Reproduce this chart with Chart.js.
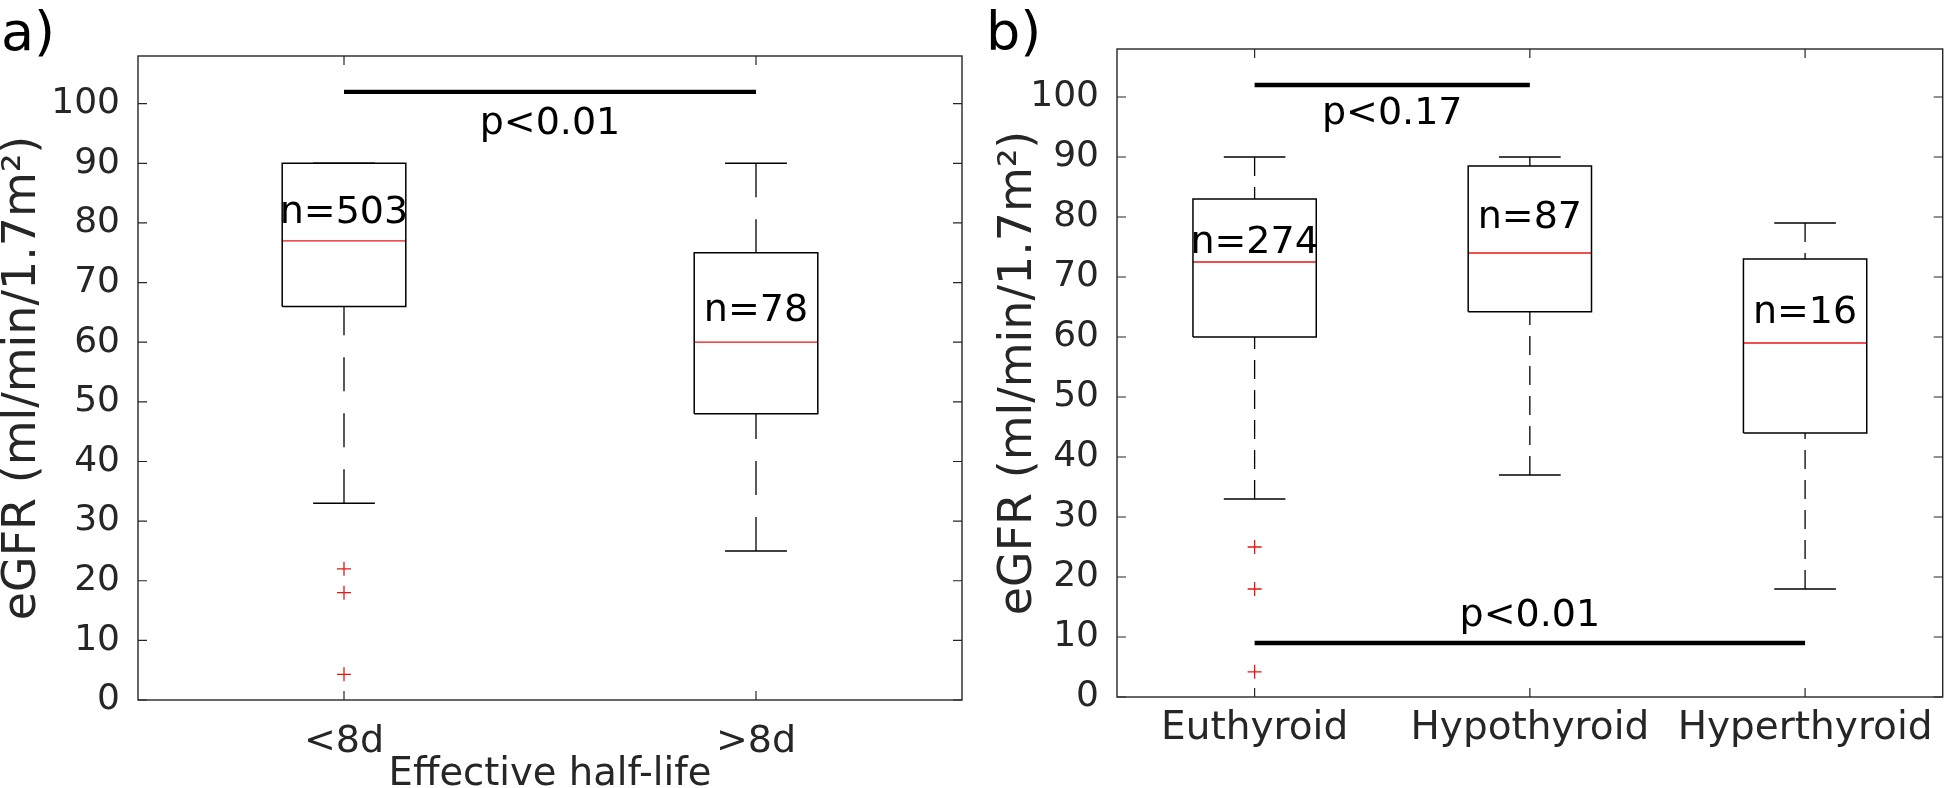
<!DOCTYPE html>
<html>
<head>
<meta charset="utf-8">
<script src="https://cdn.jsdelivr.net/npm/chart.js@4.4.0/dist/chart.umd.min.js"></script>
<style>
  html, body { margin: 0; padding: 0; background: #fff; }
  body { width: 1951px; height: 788px; position: relative; overflow: hidden; }
  canvas { position: absolute; top: 0; }
  #chartA { left: 0; }
  #chartB { left: 975px; }
</style>
</head>
<body>
<canvas id="chartA" width="975" height="788"></canvas>
<canvas id="chartB" width="976" height="788"></canvas>
<script>
// shared y axis
const yTicks = [0, 10, 20, 30, 40, 50, 60, 70, 80, 90, 100];

// panel a) effective half-life
const halfLifeCats = ['<8d', '>8d'];
const halfLifeQ1 = [66, 48];
const halfLifeMed = [77, 60];
const halfLifeQ3 = [90, 75];
const halfLifeLo = [33, 25];
const halfLifeHi = [90, 90];
const halfLifeOut = [[22, 18, 4.3], []];
const halfLifeN = ['n=503', 'n=78'];
const halfLifeNY = [80, 63.5];
const halfLifeSigFrom = [1];
const halfLifeSigTo = [2];
const halfLifeSigY = [102];
const halfLifeSigText = ['p<0.01'];
const halfLifeSigTextY = [95];

// panel b) thyroid state
const thyroidCats = ['Euthyroid', 'Hypothyroid', 'Hyperthyroid'];
const thyroidQ1 = [60, 64.2, 44];
const thyroidMed = [72.5, 74, 59];
const thyroidQ3 = [83, 88.5, 73];
const thyroidLo = [33, 37, 18];
const thyroidHi = [90, 90, 79];
const thyroidOut = [[25, 18, 4.2], [], []];
const thyroidN = ['n=274', 'n=87', 'n=16'];
const thyroidNY = [74, 78.1, 62.4];
const thyroidSigFrom = [1, 1];
const thyroidSigTo = [2, 3];
const thyroidSigY = [102, 9];
const thyroidSigText = ['p<0.17', 'p<0.01'];
const thyroidSigTextY = [95.5, 11.9];

const FONT = 'DejaVu Sans';
const AXIS_GREY = '#262626';
const RED = 'rgb(235, 20, 20)';

Chart.defaults.font.family = FONT;

function seg(points, color, width, dash) {
    return {
        data: points.map(p => ({x: p[0], y: p[1]})),
        showLine: true,
        borderColor: color,
        borderWidth: width,
        borderDash: dash || [],
        pointRadius: 0,
        pointHoverRadius: 0,
        fill: false,
        tension: 0
    };
}

function buildDatasets(p) {
    const sets = [];
    p.cats.forEach((c, i) => {
        const x = i + 1;
        const hb = p.halfBox, hc = p.halfCap;
        // whiskers drawn from the cap toward the box so the dashes start at the cap
        if (p.hi[i] > p.q3[i]) sets.push(seg([[x, p.hi[i]], [x, p.q3[i]]], '#000', 1.3, p.dash));
        if (p.lo[i] < p.q1[i]) sets.push(seg([[x, p.lo[i]], [x, p.q1[i]]], '#000', 1.3, p.dash));
        sets.push(seg([[x - hc, p.hi[i]], [x + hc, p.hi[i]]], '#000', 1.5));
        sets.push(seg([[x - hc, p.lo[i]], [x + hc, p.lo[i]]], '#000', 1.5));
        sets.push(seg([[x - hb, p.q1[i]], [x + hb, p.q1[i]], [x + hb, p.q3[i]],
                       [x - hb, p.q3[i]], [x - hb, p.q1[i]]], '#000', 1.5));
        sets.push(seg([[x - hb, p.med[i]], [x + hb, p.med[i]]], RED, 1.3));
        if (p.out[i].length) {
            sets.push({
                data: p.out[i].map(v => ({x: x, y: v})),
                showLine: false,
                pointStyle: 'cross',
                pointRadius: 7,
                pointHoverRadius: 7,
                pointBorderColor: RED,
                pointBorderWidth: 1.3,
                borderColor: RED
            });
        }
    });
    p.sigFrom.forEach((f, k) => {
        sets.unshift(seg([[f, p.sigY[k]], [p.sigTo[k], p.sigY[k]]], '#000', 4.3));
    });
    return sets;
}

const framePlugin = {
    id: 'frame',
    afterDatasetsDraw(chart, args, opts) {
        const {ctx, chartArea: a, scales: {x, y}} = chart;
        ctx.save();
        ctx.strokeStyle = AXIS_GREY;
        ctx.lineWidth = 1.4;
        ctx.strokeRect(a.left, a.top, a.right - a.left, a.bottom - a.top);
        ctx.beginPath();
        ctx.lineWidth = 1.2;
        y.ticks.forEach(t => {
            const py = y.getPixelForValue(t.value);
            ctx.moveTo(a.left, py); ctx.lineTo(a.left + 9, py);
            ctx.moveTo(a.right, py); ctx.lineTo(a.right - 9, py);
        });
        x.ticks.forEach(t => {
            const px = x.getPixelForValue(t.value);
            ctx.moveTo(px, a.bottom); ctx.lineTo(px, a.bottom - 9);
            ctx.moveTo(px, a.top); ctx.lineTo(px, a.top + 9);
        });
        ctx.stroke();

        ctx.fillStyle = '#000';
        ctx.font = '38px "' + FONT + '"';
        ctx.textAlign = 'center';
        ctx.textBaseline = 'alphabetic';
        opts.notes.forEach(n => {
            ctx.fillText(n.text, x.getPixelForValue(n.x), y.getPixelForValue(n.y));
        });

        ctx.textAlign = 'left';
        ctx.font = '54px "' + FONT + '"';
        ctx.fillText(opts.tag, opts.tagX, 50);
        ctx.restore();
    }
};

function buildPanel(id, p) {
    const notes = p.nLabels.map((t, i) => ({text: t, x: i + 1, y: p.nY[i]}));
    p.sigText.forEach((t, k) => {
        notes.push({text: t, x: (p.sigFrom[k] + p.sigTo[k]) / 2, y: p.sigTextY[k]});
    });
    const xTitle = p.xTitle
        ? {display: true, text: p.xTitle, color: AXIS_GREY,
           font: {size: 38.5, lineHeight: 0.7}, padding: {top: 0, bottom: 0}}
        : {display: false};

    return new Chart(document.getElementById(id), {
        type: 'scatter',
        data: {datasets: buildDatasets(p)},
        options: {
            responsive: false,
            animation: false,
            devicePixelRatio: 1,
            events: [],
            layout: {padding: {left: 0, right: p.padRight, top: p.padTop, bottom: 0}},
            plugins: {
                legend: {display: false},
                tooltip: {enabled: false},
                frame: {notes: notes, tag: p.tag, tagX: p.tagX}
            },
            scales: {
                x: {
                    type: 'linear',
                    min: 0.5,
                    max: p.cats.length + 0.5,
                    afterBuildTicks: s => { s.ticks = p.cats.map((c, i) => ({value: i + 1})); },
                    afterFit: s => { s.height = p.xHeight; },
                    grid: {display: false},
                    border: {display: false},
                    ticks: {
                        callback: (v, i) => p.cats[i],
                        color: AXIS_GREY,
                        font: {size: p.xFont},
                        padding: p.xPad,
                        maxRotation: 0,
                        autoSkip: false
                    },
                    title: xTitle
                },
                y: {
                    type: 'linear',
                    min: 0,
                    max: 108,
                    afterBuildTicks: s => { s.ticks = yTicks.map(v => ({value: v})); },
                    afterFit: s => { s.width = p.yWidth; },
                    grid: {display: false},
                    border: {display: false},
                    ticks: {color: AXIS_GREY, font: {size: 36}, padding: 10},
                    title: {
                        display: true,
                        text: 'eGFR (ml/min/1.7m²)',
                        color: AXIS_GREY,
                        font: {size: 46, lineHeight: 1},
                        padding: {top: p.yTitlePad, bottom: 0}
                    }
                }
            }
        },
        plugins: [framePlugin]
    });
}

buildPanel('chartA', {
    cats: halfLifeCats, q1: halfLifeQ1, med: halfLifeMed, q3: halfLifeQ3,
    lo: halfLifeLo, hi: halfLifeHi, out: halfLifeOut,
    nLabels: halfLifeN, nY: halfLifeNY,
    sigFrom: halfLifeSigFrom, sigTo: halfLifeSigTo, sigY: halfLifeSigY,
    sigText: halfLifeSigText, sigTextY: halfLifeSigTextY,
    halfBox: 0.15, halfCap: 0.075, dash: [34, 22],
    xTitle: 'Effective half-life',
    tag: 'a)', tagX: 1,
    padTop: 56, padRight: 13, yWidth: 138, xHeight: 88, xPad: 11, xFont: 38, yTitlePad: 0
});

buildPanel('chartB', {
    cats: thyroidCats, q1: thyroidQ1, med: thyroidMed, q3: thyroidQ3,
    lo: thyroidLo, hi: thyroidHi, out: thyroidOut,
    nLabels: thyroidN, nY: thyroidNY,
    sigFrom: thyroidSigFrom, sigTo: thyroidSigTo, sigY: thyroidSigY,
    sigText: thyroidSigText, sigTextY: thyroidSigTextY,
    halfBox: 0.224, halfCap: 0.112, dash: [19, 11],
    xTitle: null,
    tag: 'b)', tagX: 11,
    padTop: 49, padRight: 6, yWidth: 142, xHeight: 91, xPad: 0.5, xFont: 39, yTitlePad: 21
});
</script>
</body>
</html>
